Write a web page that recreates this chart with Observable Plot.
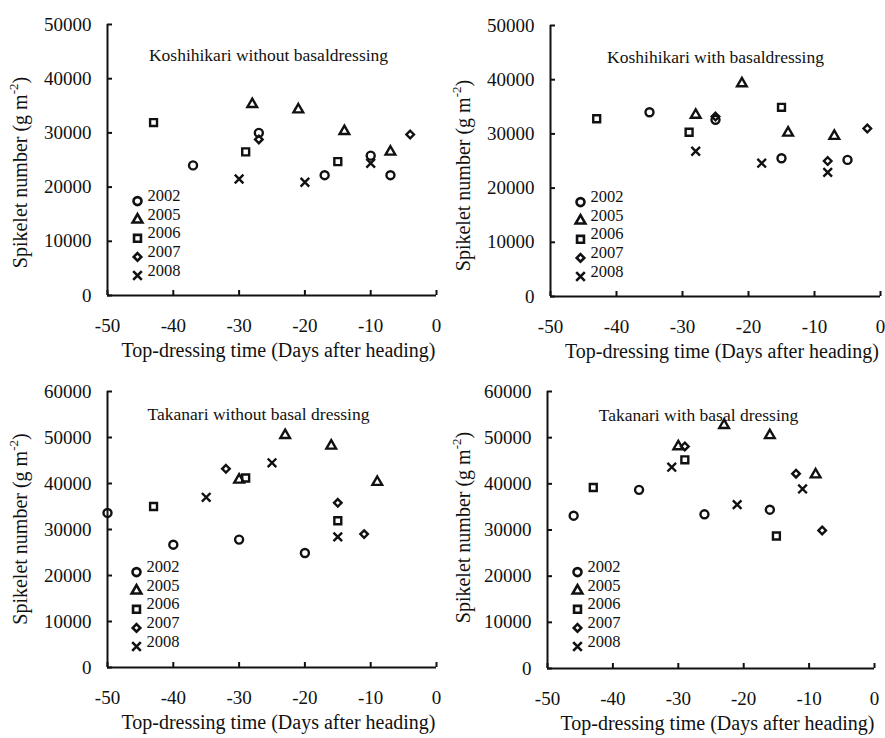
<!DOCTYPE html>
<html><head><meta charset="utf-8">
<script src="https://cdn.jsdelivr.net/npm/d3@7"></script>
<script src="https://cdn.jsdelivr.net/npm/@observablehq/plot@0.6"></script>
<style>
body{margin:0;background:#fff;}
#chart{position:relative;width:885px;height:738px;font-family:"Liberation Serif","Times New Roman",serif;}
#chart svg{position:absolute;}
</style></head><body><div id="chart"></div>
<script>
// ---------- data ----------
const years = ["2002", "2005", "2006", "2007", "2008"];
const xTicks = [-50, -40, -30, -20, -10, 0];
const yTicksKoshihikari = [0, 10000, 20000, 30000, 40000, 50000];
const yTicksTakanari = [0, 10000, 20000, 30000, 40000, 50000, 60000];
const panelTitles = [
  "Koshihikari without basaldressing",
  "Koshihikari with basaldressing",
  "Takanari without basal dressing",
  "Takanari with basal dressing"
];
const xAxisTitle = "Top-dressing time (Days after heading)";
const yAxisTitleMain = "Spikelet number (g m";
const yAxisTitleSup = "-2";
const yAxisTitleEnd = ")";

// Koshihikari without basal dressing
const kwoYear = ["2002","2002","2002","2002","2002","2005","2005","2005","2005","2006","2006","2006","2007","2007","2008","2008","2008"];
const kwoDays = [-37,-27,-17,-10,-7, -28,-21,-14,-7, -43,-29,-15, -27,-4, -30,-20,-10];
const kwoSpikelets = [24000,30000,22200,25800,22200, 35300,34300,30300,26500, 31900,26500,24700, 28800,29700, 21500,20900,24400];

// Koshihikari with basal dressing
const kwYear = ["2002","2002","2002","2002","2005","2005","2005","2005","2006","2006","2006","2007","2007","2007","2008","2008","2008"];
const kwDays = [-35,-25,-15,-5, -28,-21,-14,-7, -43,-29,-15, -25,-8,-2, -28,-18,-8];
const kwSpikelets = [34000,32600,25500,25200, 33500,39300,30200,29600, 32800,30300,34900, 33200,25000,31000, 26800,24600,22900];

// Takanari without basal dressing
const twoYear = ["2002","2002","2002","2002","2005","2005","2005","2005","2006","2006","2006","2007","2007","2007","2008","2008","2008"];
const twoDays = [-50,-40,-30,-20, -30,-23,-16,-9, -43,-29,-15, -32,-15,-11, -35,-25,-15];
const twoSpikelets = [33600,26700,27800,24900, 40800,50500,48200,40300, 35000,41200,31900, 43200,35800,29000, 37000,44500,28400];

// Takanari with basal dressing
const twYear = ["2002","2002","2002","2002","2005","2005","2005","2005","2006","2006","2006","2007","2007","2007","2008","2008","2008"];
const twDays = [-46,-36,-26,-16, -30,-23,-16,-9, -43,-29,-15, -29,-12,-8, -31,-21,-11];
const twSpikelets = [33100,38700,33400,34400, 48100,52700,50500,42000, 39200,45200,28700, 48100,42200,29900, 43600,35500,38900];

// ---------- styles ----------
const symbolStyle = {
  "2002": {symbol: "circle", r: 4},
  "2005": {symbol: "triangle", r: 3.6},
  "2006": {symbol: "square", r: 3.9},
  "2007": {symbol: "diamond2", r: 3.4},
  "2008": {symbol: "times", r: 4}
};
const FONT = "Liberation Serif, Times New Roman, serif";

function makePanel(cfg) {
  const data = cfg.year.map((yr, i) => ({year: yr, day: cfg.days[i], n: cfg.spikelets[i]}));
  const frameW = cfg.width - cfg.mL - cfg.mR;
  const frameH = cfg.height - cfg.mT - cfg.mB;
  const legStep = 18.6;
  const marks = [
    Plot.ruleY([0], {stroke: "#111", strokeWidth: 2}),
    Plot.ruleX([-50], {stroke: "#111", strokeWidth: 2}),
    Plot.axisX({ticks: xTicks, tickSize: 0, tickPadding: 23, tickFormat: d => String(d), fontSize: 19, fill: "#111", label: null}),
    Plot.axisY({ticks: cfg.yTicks, tickSize: 0, tickPadding: 16, tickFormat: d => String(d), fontSize: 19, fill: "#111", label: null}),
    // inward tick marks
    Plot.tickX(xTicks, {x: d => d, insetTop: frameH - 5, stroke: "#111", strokeWidth: 2}),
    Plot.tickY(cfg.yTicks, {y: d => d, insetRight: frameW - 5, stroke: "#111", strokeWidth: 2}),
    ...years.map(yr => Plot.dot(data.filter(d => d.year === yr), {
      x: "day", y: "n", symbol: () => symbolStyle[yr].symbol, r: symbolStyle[yr].r,
      stroke: "#111", strokeWidth: 2.4, fill: "none"
    })),
    Plot.text([cfg.title], {frameAnchor: "top-left", dx: cfg.titleDx, dy: cfg.titleDy, textAnchor: "middle",
      fontSize: 17.5, fill: "#111", text: d => d}),
    ...years.map((yr, i) => Plot.dot([yr], {
      frameAnchor: "bottom-left", dx: cfg.legDx, dy: cfg.legBottom - (4 - i) * legStep,
      symbol: () => symbolStyle[yr].symbol, r: symbolStyle[yr].r, stroke: "#111", strokeWidth: 2.6, fill: "none"
    })),
    ...years.map((yr, i) => Plot.text([yr], {
      frameAnchor: "bottom-left", dx: cfg.legDx + 10, dy: cfg.legBottom - (4 - i) * legStep,
      textAnchor: "start", fontSize: 16.5, fill: "#111", text: d => d
    }))
  ];
  const svg = Plot.plot({
    width: cfg.width, height: cfg.height,
    marginLeft: cfg.mL, marginRight: cfg.mR, marginTop: cfg.mT, marginBottom: cfg.mB,
    x: {domain: [-50, 0], label: null},
    y: {domain: [0, cfg.yMax], label: null},
    symbol: {type: "identity"},
    style: {fontFamily: FONT, background: "transparent", overflow: "visible"},
    marks
  });
  svg.style.left = cfg.left + "px";
  svg.style.top = cfg.top + "px";
  document.getElementById("chart").appendChild(svg);

  // axis titles (real text with superscript)
  const s = d3.select(svg);
  const axisY = cfg.height - cfg.mB;
  const cx = (cfg.mL + cfg.width - cfg.mR) / 2;
  s.append("text").attr("x", cx + 7).attr("y", axisY + 57)
    .attr("text-anchor", "middle").attr("dominant-baseline", "middle")
    .attr("font-family", FONT).attr("font-size", 20).attr("fill", "#111")
    .text(xAxisTitle);
  const cy = (cfg.mT + axisY) / 2 + cfg.yTitleOff;
  const t = s.append("text")
    .attr("transform", `translate(${cfg.yTitleX},${cy}) rotate(-90)`)
    .attr("text-anchor", "middle").attr("dominant-baseline", "middle")
    .attr("font-family", FONT).attr("font-size", 20).attr("fill", "#111");
  t.append("tspan").text(yAxisTitleMain);
  t.append("tspan").attr("font-size", 13).attr("dy", -7).text(yAxisTitleSup);
  t.append("tspan").attr("dy", 7).text(yAxisTitleEnd);
}

makePanel({year: kwoYear, days: kwoDays, spikelets: kwoSpikelets, yTicks: yTicksKoshihikari, yMax: 50000,
  title: panelTitles[0], left: 0, top: 0, width: 442, height: 366, mL: 107, mR: 6, mT: 24, mB: 71,
  titleDx: 161, titleDy: 24, legDx: 30, legBottom: -20, yTitleX: 22, yTitleOff: 13});
makePanel({year: kwYear, days: kwDays, spikelets: kwSpikelets, yTicks: yTicksKoshihikari, yMax: 50000,
  title: panelTitles[1], left: 440, top: 0, width: 445, height: 366, mL: 110, mR: 5, mT: 25, mB: 70,
  titleDx: 165, titleDy: 25, legDx: 30, legBottom: -20, yTitleX: 25, yTitleOff: 15});
makePanel({year: twoYear, days: twoDays, spikelets: twoSpikelets, yTicks: yTicksTakanari, yMax: 60000,
  title: panelTitles[2], left: 0, top: 366, width: 442, height: 372, mL: 107, mR: 6, mT: 25, mB: 71,
  titleDx: 151, titleDy: 16, legDx: 29, legBottom: -21, yTitleX: 22, yTitleOff: 0});
makePanel({year: twYear, days: twDays, spikelets: twSpikelets, yTicks: yTicksTakanari, yMax: 60000,
  title: panelTitles[3], left: 440, top: 366, width: 445, height: 372, mL: 107, mR: 11, mT: 25, mB: 70,
  titleDx: 151, titleDy: 17, legDx: 30, legBottom: -22, yTitleX: 25, yTitleOff: -2});
</script>
</body></html>
